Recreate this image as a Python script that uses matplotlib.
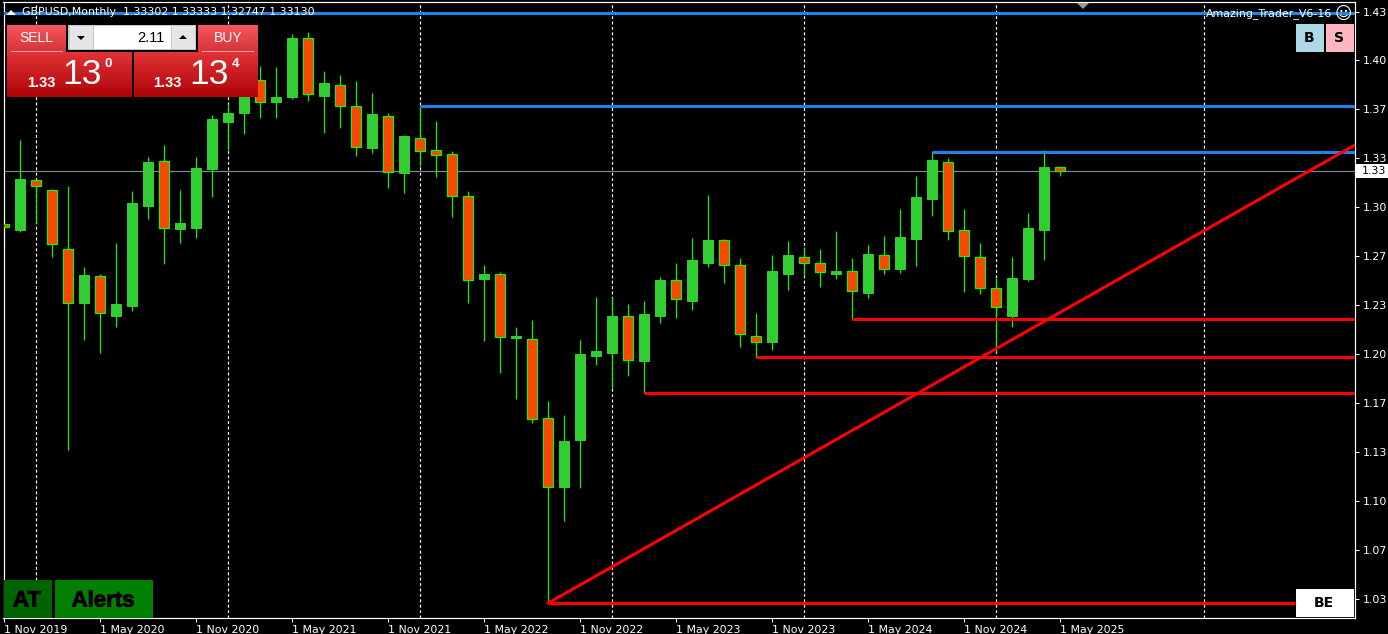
import numpy as np
import matplotlib
matplotlib.use('Agg')
import matplotlib.pyplot as plt
import matplotlib.patheffects as pe
from matplotlib.patches import Rectangle, Polygon

W = 1388
H = 634

# GBPUSD monthly, first candle is Nov 2019
opens = [1.2953, 1.2912, 1.3252, 1.3184, 1.2783, 1.2416, 1.2599, 1.2327, 1.2395, 1.3075,
         1.3381, 1.2919, 1.2926, 1.3327, 1.3646, 1.3708, 1.3932, 1.3782, 1.3816, 1.4218,
         1.3823, 1.3898, 1.3755, 1.3470, 1.3687, 1.3300, 1.3538, 1.3456, 1.3429, 1.3143,
         1.2579, 1.2613, 1.2178, 1.2171, 1.1634, 1.1164, 1.1484, 1.2055, 1.2076, 1.2327,
         1.2021, 1.2327, 1.2572, 1.2429, 1.2688, 1.2844, 1.2674, 1.2191, 1.2150, 1.2613,
         1.2728, 1.2688, 1.2613, 1.2633, 1.2484, 1.2742, 1.2647, 1.2851, 1.3123, 1.3374,
         1.2912, 1.2728, 1.2518, 1.2327, 1.2579, 1.2912, 1.3340]
highs = [1.2994, 1.3524, 1.3259, 1.3191, 1.3211, 1.2660, 1.2613, 1.2824, 1.3177, 1.3408,
         1.3490, 1.3184, 1.3408, 1.3694, 1.3769, 1.4000, 1.4027, 1.4020, 1.4245, 1.4258,
         1.3993, 1.3966, 1.3925, 1.3844, 1.3708, 1.3558, 1.3755, 1.3653, 1.3449, 1.3177,
         1.2674, 1.2626, 1.2252, 1.2300, 1.1749, 1.1654, 1.2164, 1.2456, 1.2456, 1.2409,
         1.2429, 1.2592, 1.2688, 1.2858, 1.3150, 1.2851, 1.2722, 1.2348, 1.2742, 1.2837,
         1.2796, 1.2783, 1.2905, 1.2722, 1.2810, 1.2871, 1.3055, 1.3279, 1.3442, 1.3402,
         1.3055, 1.2824, 1.2586, 1.2728, 1.3028, 1.3456, 1.3340]
lows = [1.2769, 1.2898, 1.2960, 1.2728, 1.1416, 1.2164, 1.2076, 1.2252, 1.2361, 1.2987,
        1.2681, 1.2824, 1.2858, 1.3136, 1.3456, 1.3565, 1.3674, 1.3674, 1.3803, 1.3789,
        1.3572, 1.3606, 1.3415, 1.3436, 1.3198, 1.3164, 1.3347, 1.3272, 1.3000, 1.2416,
        1.2157, 1.1940, 1.1763, 1.1600, 1.0376, 1.0933, 1.1158, 1.1994, 1.1838, 1.1919,
        1.1804, 1.2280, 1.2314, 1.2368, 1.2660, 1.2552, 1.2116, 1.2042, 1.2096, 1.2504,
        1.2599, 1.2524, 1.2579, 1.2307, 1.2450, 1.2613, 1.2620, 1.2667, 1.3007, 1.2844,
        1.2490, 1.2477, 1.2082, 1.2252, 1.2565, 1.2708, 1.3279]
closes = [1.2932, 1.3259, 1.3211, 1.2817, 1.2416, 1.2606, 1.2348, 1.2409, 1.3096, 1.3374,
          1.2926, 1.2960, 1.3334, 1.3667, 1.3708, 1.3898, 1.3782, 1.3816, 1.4218, 1.3837,
          1.3912, 1.3755, 1.3476, 1.3701, 1.3306, 1.3551, 1.3449, 1.3422, 1.3143, 1.2572,
          1.2613, 1.2184, 1.2191, 1.1627, 1.1164, 1.1477, 1.2069, 1.2089, 1.2327, 1.2028,
          1.2341, 1.2572, 1.2443, 1.2708, 1.2844, 1.2674, 1.2205, 1.2150, 1.2633, 1.2742,
          1.2688, 1.2626, 1.2633, 1.2497, 1.2749, 1.2647, 1.2864, 1.3136, 1.3388, 1.2905,
          1.2735, 1.2518, 1.2388, 1.2586, 1.2926, 1.3340, 1.3313]

x_tick_idx = [0, 6, 12, 18, 24, 30, 36, 42, 48, 54, 60, 66]
x_tick_labels = ['1 Nov 2019', '1 May 2020', '1 Nov 2020', '1 May 2021', '1 Nov 2021', '1 May 2022',
                 '1 Nov 2022', '1 May 2023', '1 Nov 2023', '1 May 2024', '1 Nov 2024', '1 May 2025']
y_tick_vals = [1.4394, 1.4068, 1.3735, 1.3402, 1.3068, 1.2735, 1.2402,
               1.2069, 1.1736, 1.1402, 1.1069, 1.0736, 1.0403]
y_tick_labels = ['1.43', '1.40', '1.37', '1.33', '1.30', '1.27', '1.23',
                 '1.20', '1.17', '1.13', '1.10', '1.07', '1.03']
grid_idx = [2, 14, 26, 38, 50, 62, 75]

# start index, price
blue_levels = [(-1, 1.4385), (26, 1.3755), (58, 1.3439)]
red_levels = [(53, 1.2307), (47, 1.2048), (40, 1.1807)]
be_start = 34
be_level = 1.0376
be_end = 80.7
trend_end = 84.42
trend_end_price = 1.3490
bid = 1.3313

GREEN = '#32CD32'
ORANGE = '#FF4500'
LIME = '#00FF00'
PX = 0.72
TEXT = 7.9

fig = plt.figure(figsize=(W / 100, H / 100), dpi=100, facecolor='black')
ax = fig.add_axes([3.5 / W, (H - 618) / H, (1355 - 3.5) / W, 616 / H], facecolor='black')
ax.set_xlim(-0.05, 84.42)
ax.set_ylim(1.0274, 1.4462)

ax.vlines(grid_idx, 1.0274, 1.4462, color='white', lw=PX * 1.2, linestyles=(0, (2.5, 2)), zorder=1)
ax.axhline(bid, color='#778899', lw=PX * 1.2, zorder=1)

idx = np.arange(len(opens))
o = np.array(opens)
c = np.array(closes)
up = c >= o
ax.vlines(idx, lows, highs, color=LIME, lw=PX * 1.2, zorder=2)
ax.bar(idx[up], (c - o)[up], bottom=o[up], width=0.64, color=GREEN, edgecolor=GREEN, lw=PX, zorder=3)
ax.bar(idx[~up], (o - c)[~up], bottom=c[~up], width=0.62, color=ORANGE, edgecolor=LIME, lw=PX * 1.2, zorder=3)

for start, level in blue_levels:
    ax.hlines(level, start, 84.42, color='#1E84EC', lw=2.2, zorder=4)
for start, level in red_levels:
    ax.hlines(level, start, 84.42, color='#FF0000', lw=2.2, zorder=4)
ax.hlines(be_level, be_start, be_end, color='#FF0000', lw=2.4, zorder=4)
ax.plot([be_start, trend_end], [be_level, trend_end_price], color='#FF0000', lw=2.2, zorder=4)

for s in ax.spines.values():
    s.set_color('white')
    s.set_linewidth(PX * 1.2)

ax.set_xticks(x_tick_idx)
ax.set_xticklabels(x_tick_labels, ha='left', color='white', fontsize=TEXT, family='DejaVu Sans')
ax.yaxis.tick_right()
ax.set_yticks(y_tick_vals)
ax.set_yticklabels(y_tick_labels, color='white', fontsize=TEXT, family='DejaVu Sans')
ax.tick_params(axis='x', color='white', length=3, width=PX, pad=2)
ax.tick_params(axis='y', color='white', length=3, width=PX, pad=2.5)


def box(x0, y0, x1, y1, color, z=10):
    fig.add_artist(Rectangle((x0 / W, 1 - y1 / H), (x1 - x0) / W, (y1 - y0) / H,
                             transform=fig.transFigure, facecolor=color, edgecolor='none', zorder=z))


def grad(x0, y0, x1, y1, top, bottom):
    a = fig.add_axes([x0 / W, 1 - y1 / H, (x1 - x0) / W, (y1 - y0) / H], zorder=10)
    t = np.array(matplotlib.colors.to_rgb(top))
    b = np.array(matplotlib.colors.to_rgb(bottom))
    k = np.linspace(0, 1, 32)[:, None, None]
    a.imshow(t[None, None, :] * (1 - k) + b[None, None, :] * k, aspect='auto', interpolation='bilinear')
    a.axis('off')


def tri(points, color):
    fig.add_artist(Polygon([[x / W, 1 - y / H] for x, y in points], transform=fig.transFigure,
                           facecolor=color, edgecolor='none', zorder=20))


def label(x, y, s, size, color='white', ha='left', weight='normal', family='DejaVu Sans', stroke=0):
    t = fig.text(x / W, 1 - y / H, s, fontsize=size, color=color, ha=ha, va='center',
                 weight=weight, family=family, zorder=20)
    if stroke:
        t.set_path_effects([pe.withStroke(linewidth=stroke, foreground=color)])


# header text
tri([(6.5, 15), (16, 15), (11, 10)], 'white')
label(22, 12, 'GBPUSD,Monthly  1.33302 1.33333 1.32747 1.33130', TEXT)
label(1332, 13.5, 'Amazing_Trader_V6-16', TEXT, ha='right')
label(1343, 13.5, '☺', 12, ha='center')
tri([(1077, 3), (1089, 3), (1083, 9)], '#999999')

# trade panel
box(7, 25, 258, 97, '#000000', 9)
grad(7, 25, 66, 52, '#F5555C', '#D5343A')
grad(198, 25, 258, 52, '#F5555C', '#D5343A')
grad(7, 52, 132, 97, '#E03338', '#AE0408')
grad(134, 52, 258, 97, '#E03338', '#AE0408')
box(11, 51, 63, 52, '#F0A0A0', 12)
box(202, 51, 254, 52, '#F0A0A0', 12)
box(68, 25, 196, 50, '#C8C8C8', 11)
box(94, 26, 171, 49, '#FFFFFF', 12)
box(70, 26, 93, 49, '#E6E6E6', 12)
box(172, 26, 195, 49, '#E6E6E6', 12)
tri([(77, 36), (85, 36), (81, 40)], 'black')
tri([(179, 39), (187, 39), (183, 35)], 'black')
label(36, 38.5, 'SELL', 10, ha='center', family='Liberation Sans')
label(228, 38.5, 'BUY', 10, ha='center', family='Liberation Sans')
label(165, 38, '2.11', 10.5, color='black', ha='right', family='Liberation Sans')
label(27, 83, '1.33', 10.5, weight='bold', family='Liberation Sans')
label(62, 75, '13', 25.5, family='Liberation Sans')
label(105, 64, '0', 9.5, weight='bold', family='Liberation Sans')
label(153, 83, '1.33', 10.5, weight='bold', family='Liberation Sans')
label(189, 75, '13', 25.5, family='Liberation Sans')
label(232, 64, '4', 9.5, weight='bold', family='Liberation Sans')

# buttons
box(4, 580, 52, 618, '#006400')
box(55, 580, 153, 618, '#008000')
label(27, 601, 'AT', 16, color='black', ha='center', weight='bold', family='Liberation Sans', stroke=0.7)
label(103, 601, 'Alerts', 16, color='black', ha='center', weight='bold', family='Liberation Sans', stroke=0.7)
box(1296, 24, 1324, 52, '#ADD8E6')
box(1326, 24, 1354, 52, '#FFB6C1')
label(1309, 38, 'B', 10, color='black', ha='center', weight='bold')
label(1339, 38, 'S', 10, color='black', ha='center', weight='bold')
box(1296, 589, 1354, 617, '#FFFFFF')
label(1324, 603, 'BE', 10, color='black', ha='center', weight='bold')

# current price
box(1356, 164, 1388, 178, '#FFFFFF')
label(1362, 171, '1.33', TEXT, color='black')

fig.savefig('out.png', dpi=100, facecolor='black')
